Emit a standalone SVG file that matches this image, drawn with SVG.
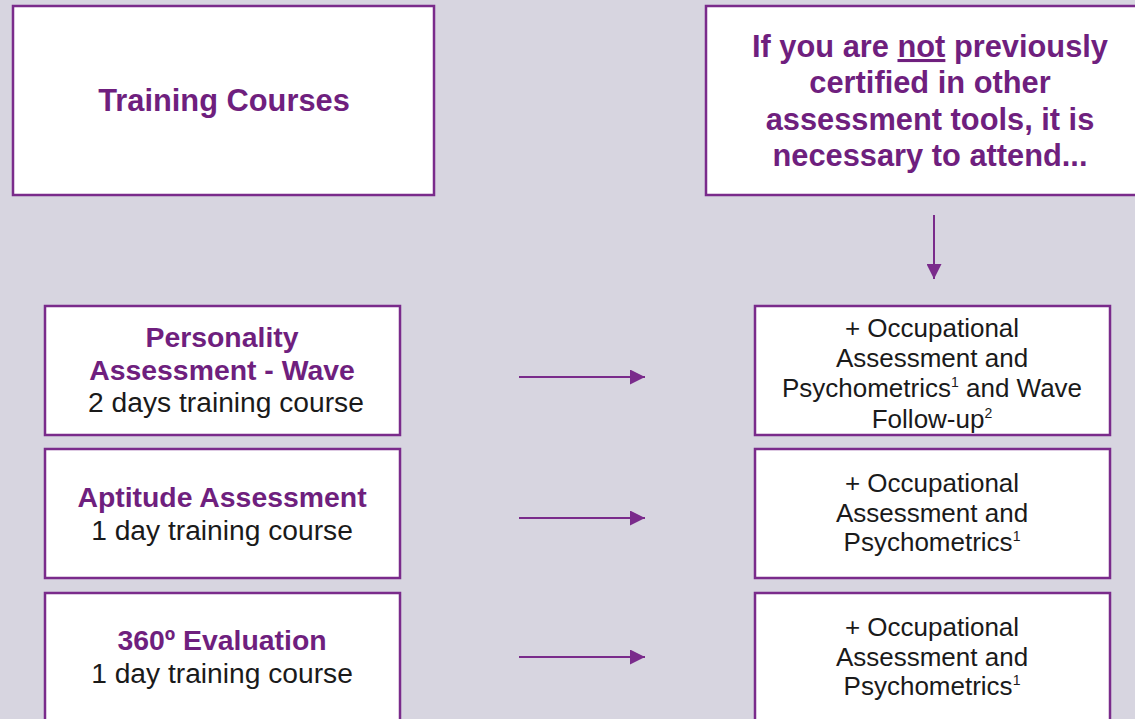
<svg xmlns="http://www.w3.org/2000/svg" width="1135" height="719" viewBox="0 0 1135 719">
<style>
.box{fill:#fff;stroke:#7a2b8b;stroke-width:2.5}
.h{font-family:"Liberation Sans",Arial,sans-serif;font-weight:bold;fill:#6f1f7e;text-anchor:middle}
.r{font-family:"Liberation Sans",Arial,sans-serif;fill:#1a1a1a;text-anchor:middle}
.c{stroke:#7a2b8b;stroke-width:2;fill:none}
</style>
<defs>
<marker id="ah" viewBox="0 0 10 10" refX="10" refY="5" markerWidth="16" markerHeight="15" markerUnits="userSpaceOnUse" orient="auto">
<path d="M0,0 L10,5 L0,10 Z" fill="#7a2b8b"/>
</marker>
</defs>
<rect width="1135" height="719" fill="#d7d5e0"/>
<g id="training-courses">
<rect class="box" x="13" y="6" width="421" height="189"/>
<text class="h" x="224" y="111" font-size="30.8">Training Courses</text>
</g>
<g id="not-certified">
<rect class="box" x="706" y="6" width="440" height="189"/>
<text class="h" font-size="30.8"><tspan x="930" y="57">If you are <tspan text-decoration="underline">not</tspan> previously</tspan><tspan x="930" y="93">certified in other</tspan><tspan x="930" y="130">assessment tools, it is</tspan><tspan x="930" y="166">necessary to attend...</tspan></text>
</g>
<g id="personality">
<rect class="box" x="45" y="306" width="355" height="129"/>
<text class="h" font-size="28.4"><tspan x="222" y="347">Personality</tspan><tspan x="222" y="380">Assessment - Wave</tspan></text>
<text class="r" x="226" y="412" font-size="28.2">2 days training course</text>
</g>
<g id="aptitude">
<rect class="box" x="45" y="449" width="355" height="129"/>
<text class="h" x="222" y="507" font-size="28.4">Aptitude Assessment</text>
<text class="r" x="222" y="540" font-size="28.2">1 day training course</text>
</g>
<g id="evaluation360">
<rect class="box" x="45" y="593" width="355" height="140"/>
<text class="h" x="222" y="650" font-size="28.4">360º Evaluation</text>
<text class="r" x="222" y="683" font-size="28.2">1 day training course</text>
</g>
<g id="req-wave">
<rect class="box" x="755" y="306" width="355" height="129"/>
<text class="r" font-size="26"><tspan x="932" y="337">+ Occupational</tspan><tspan x="932" y="367">Assessment and</tspan><tspan x="932" y="397">Psychometrics<tspan font-size="14" dy="-10">1</tspan><tspan dy="10"> and Wave</tspan></tspan><tspan x="932" y="428">Follow-up<tspan font-size="14" dy="-10">2</tspan></tspan></text>
</g>
<g id="req-aptitude">
<rect class="box" x="755" y="449" width="355" height="129"/>
<text class="r" font-size="26"><tspan x="932" y="492">+ Occupational</tspan><tspan x="932" y="522">Assessment and</tspan><tspan x="932" y="551">Psychometrics<tspan font-size="14" dy="-10">1</tspan></tspan></text>
</g>
<g id="req-360">
<rect class="box" x="755" y="593" width="355" height="140"/>
<text class="r" font-size="26"><tspan x="932" y="636">+ Occupational</tspan><tspan x="932" y="666">Assessment and</tspan><tspan x="932" y="695">Psychometrics<tspan font-size="14" dy="-10">1</tspan></tspan></text>
</g>
<g id="connectors">
<line class="c" x1="934" y1="215" x2="934" y2="279" marker-end="url(#ah)"/>
<line class="c" x1="519" y1="377" x2="645" y2="377" marker-end="url(#ah)"/>
<line class="c" x1="519" y1="518" x2="645" y2="518" marker-end="url(#ah)"/>
<line class="c" x1="519" y1="657" x2="645" y2="657" marker-end="url(#ah)"/>
</g>
</svg>
